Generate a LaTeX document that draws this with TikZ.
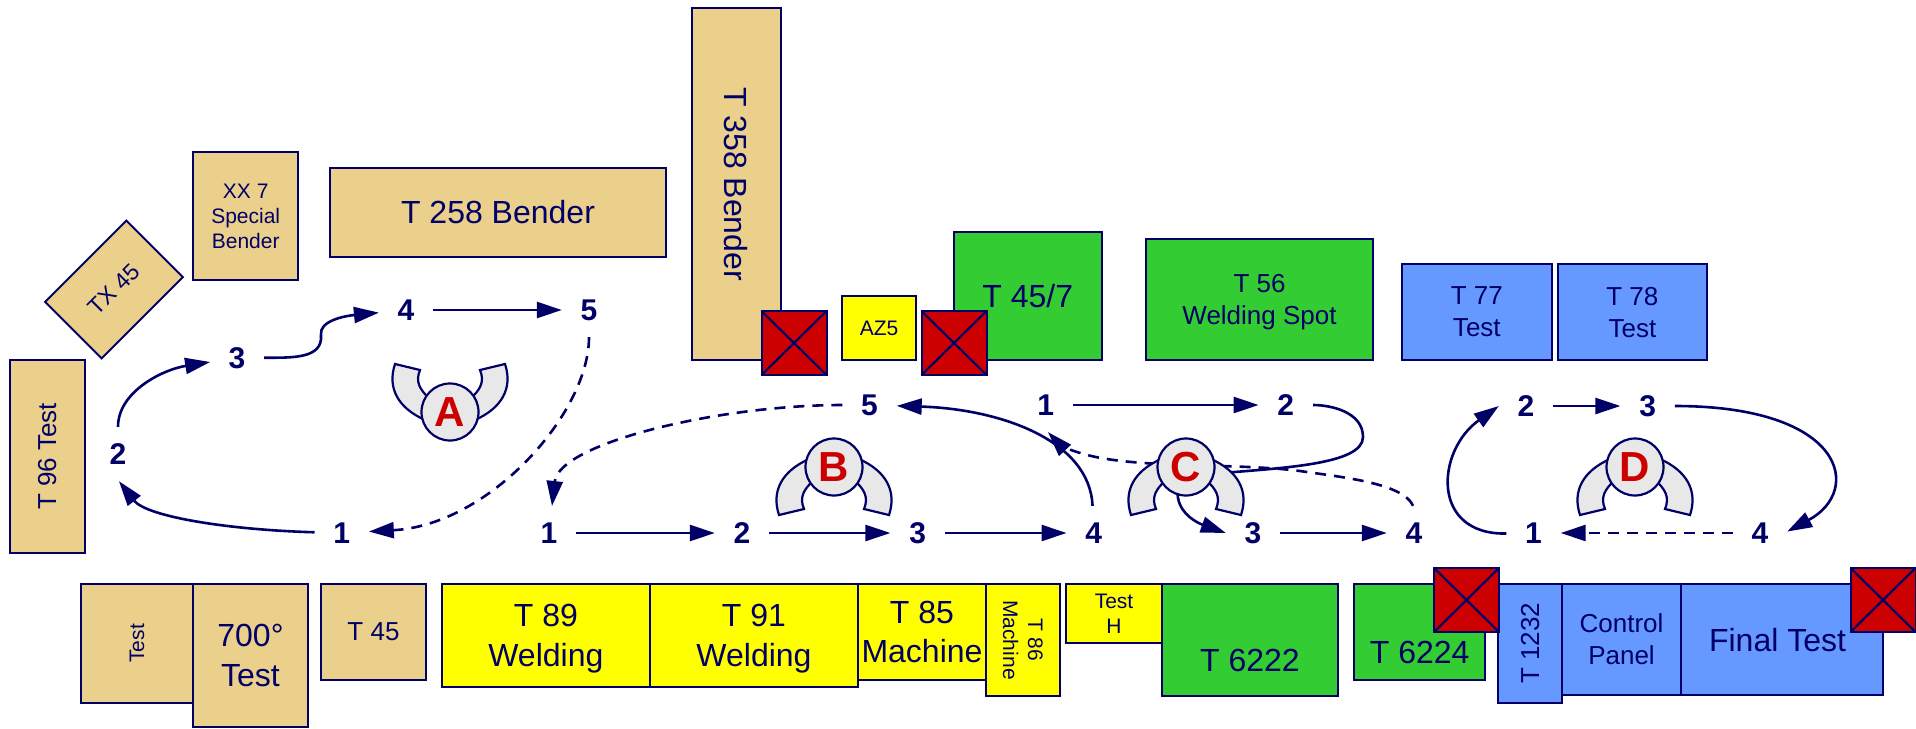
\documentclass[tikz,border=0pt]{standalone}
\usepackage{fontspec}
\setmainfont{Liberation Sans}
\usetikzlibrary{arrows.meta, positioning}

\definecolor{unitline}{HTML}{000066}
\definecolor{unittan}{HTML}{EBD08B}
\definecolor{unityellow}{HTML}{FFFF00}
\definecolor{unitgreen}{HTML}{33CC33}
\definecolor{unitblue}{HTML}{6699FF}
\definecolor{unitred}{HTML}{CC0000}
\definecolor{badgegray}{HTML}{E8E8E8}

\begin{document}
\begin{tikzpicture}[
  x=1pt, y=-1pt,
  unit/.style={rectangle, draw=unitline, line width=2pt, text=unitline,
               inner sep=0pt, outer sep=0pt, align=center, text depth=0pt},
  bigtext/.style={font=\fontsize{32}{39.5}\selectfont},
  midtext/.style={font=\fontsize{26}{32}\selectfont},
  smalltext/.style={font=\fontsize{21}{25}\selectfont},
  lowtext/.style={text height=63pt},
  tanbox/.style={unit, fill=unittan},
  yellowbox/.style={unit, fill=unityellow},
  greenbox/.style={unit, fill=unitgreen},
  bluebox/.style={unit, fill=unitblue},
  stopbox/.style={unit, fill=unitred, minimum width=65pt, minimum height=64pt},
  num/.style={circle, inner sep=0pt, minimum size=54pt, text=unitline,
              font=\fontsize{30}{30}\selectfont\bfseries},
  badge/.style={circle, draw=unitline, line width=2.2pt, fill=badgegray,
                inner sep=0pt, minimum size=57pt, text=unitred,
                font=\fontsize{42}{42}\selectfont\bfseries},
  wing/.style={draw=unitline, line width=2.2pt, fill=badgegray},
  arr/.style={-{Triangle[length=25pt, width=16pt]}, line width=2.6pt, unitline},
  darr/.style={arr, dash pattern=on 11pt off 8pt}
]
  \useasboundingbox (0,0) rectangle (1916,728);

  % ── Upper left stations ───────────────────────────────────────
  \node[tanbox, midtext, rotate=90, minimum width=193pt, minimum height=75pt]
        (t96) at (47,456.5) {T 96 Test};
  \node[tanbox, font=\fontsize{23}{28}\selectfont, rotate=45, minimum width=115pt,
        minimum height=80pt] (tx45) at (114,289.5) {TX 45};
  \node[tanbox, smalltext, anchor=north west, minimum width=104.6pt, minimum height=128.3pt]
        (xx7) at (193.4,151.7) {XX 7\\Special\\Bender};
  \node[tanbox, bigtext, anchor=north west, minimum width=336pt, minimum height=89.3pt]
        (t258) at (330,167.7) {T 258 Bender};
  \node[tanbox, bigtext, rotate=-90, minimum width=352pt, minimum height=89.5pt]
        (t358) at (736.5,184) {T 358 Bender};

  % ── Upper right stations ──────────────────────────────────────
  \node[yellowbox, smalltext, anchor=north west, minimum width=74pt, minimum height=64pt]
        (az5) at (842,296) {AZ5};
  \node[greenbox, bigtext, anchor=north west, minimum width=147.5pt, minimum height=128pt]
        (t457) at (954,232) {T 45/7};
  \node[greenbox, midtext, anchor=north west, minimum width=227pt, minimum height=121pt]
        (t56) at (1146,239) {T 56\\Welding Spot};
  \node[bluebox, midtext, anchor=north west, minimum width=149.6pt, minimum height=96pt]
        (t77) at (1402,264) {T 77\\Test};
  \node[bluebox, midtext, right=6pt of t77.north east, anchor=north west,
        minimum width=149.6pt, minimum height=96pt] (t78) {T 78\\Test};

  % ── Lower row, left part ──────────────────────────────────────
  \node[tanbox, smalltext, rotate=90, minimum width=119pt, minimum height=112pt]
        (test) at (137,643.4) {Test};
  \node[tanbox, bigtext, anchor=north west, minimum width=115pt, minimum height=143pt]
        (t700) at (193,584) {700°\\Test};
  \node[tanbox, midtext, anchor=north west, minimum width=105pt, minimum height=96pt]
        (t45) at (321,584) {T 45};
  \node[yellowbox, bigtext, anchor=north west, minimum width=208.3pt, minimum height=103pt]
        (t89) at (441.7,584) {T 89\\Welding};
  \node[yellowbox, bigtext, right=0pt of t89.north east, anchor=north west,
        minimum width=208pt, minimum height=103pt] (t91) {T 91\\Welding};
  \node[yellowbox, bigtext, right=0pt of t91.north east, anchor=north west,
        minimum width=128pt, minimum height=96pt] (t85) {T 85\\Machine};
  \node[yellowbox, smalltext, rotate=-90, minimum width=112pt, minimum height=74pt]
        (t86) at (1023,640) {T 86\\Machine};

  % ── Lower row, right part ─────────────────────────────────────
  \node[yellowbox, smalltext, anchor=north west, minimum width=96pt, minimum height=59pt]
        (testh) at (1066,584) {Test\\H};
  \node[greenbox, bigtext, lowtext, right=0pt of testh.north east, anchor=north west,
        minimum width=176pt, minimum height=112pt] (t6222) {T 6222};
  \node[greenbox, bigtext, lowtext, anchor=north west, minimum width=131.4pt, minimum height=96pt]
        (t6224) at (1354,584) {T 6224};
  \node[bluebox, midtext, rotate=90, minimum width=119pt, minimum height=64pt]
        (t1232) at (1530,643.5) {T 1232};
  \node[bluebox, midtext, anchor=north west, minimum width=119pt, minimum height=111pt]
        (panel) at (1562,584) {Control\\Panel};
  \node[bluebox, bigtext, right=0pt of panel.north east, anchor=north west,
        minimum width=202pt, minimum height=111pt] (final) {Final Test\hspace*{9pt}};

  % ── Crossed out stations ──────────────────────────────────────
  \foreach \n/\x/\y in {stopa/794/343, stopb/954/343, stopc/1466.5/600, stopd/1883/600} {
    \node[stopbox] (\n) at (\x,\y) {};
    \draw[draw=unitline, line width=2.2pt] (\n.north west) -- (\n.south east)
                                           (\n.north east) -- (\n.south west);
  }

  % ── Route numbers ─────────────────────────────────────────────
  \node[num] (a1) at (341.7,533) {1};
  \node[num] (a2) at (118,454)   {2};
  \node[num] (a3) at (237,357.7) {3};
  \node[num] (a4) at (406,310)   {4};
  \node[num] (a5) at (589,310)   {5};

  \node[num] (b1) at (549,533)    {1};
  \node[num] (b2) at (742,533)    {2};
  \node[num] (b3) at (917.6,533)  {3};
  \node[num] (b4) at (1093.7,533) {4};
  \node[num] (b5) at (869.5,405)  {5};

  \node[num] (c1) at (1045.6,405) {1};
  \node[num] (c2) at (1285.8,405) {2};
  \node[num] (c3) at (1253,533)   {3};
  \node[num] (c4) at (1414,533)   {4};

  \node[num] (d1) at (1533.5,533) {1};
  \node[num] (d2) at (1526,406)   {2};
  \node[num] (d3) at (1647.6,406) {3};
  \node[num] (d4) at (1760,533)   {4};

  % ── Route A ───────────────────────────────────────────────────
  \coordinate (a34) at (321,335);
  \draw[arr] (a1) .. controls +(-110,-3) and +(28,36) .. (a2.-88);
  \draw[arr] (a2) .. controls +(0,-62) and +(-75,12) .. (a3);
  \draw[arr] (a3) .. controls +(55,0) and +(2,24) .. (a34)
                  .. controls +(-2,-14) and +(-62,6) .. (a4);
  \draw[arr] (a4) -- (a5);
  \draw[darr] (a5) .. controls +(0,103) and +(148,-8) .. (a1);

  % ── Route B ───────────────────────────────────────────────────
  \foreach \a/\b in {b1/b2, b2/b3, b3/b4}
    \draw[arr] (\a) -- (\b);
  \draw[arr] (b4) .. controls +(-4,-93) and +(130,4) .. (b5);
  \draw[darr] (b5) .. controls +(-150,0) and +(10,-90) .. (b1);

  % ── Route C ───────────────────────────────────────────────────
  \coordinate (c2r) at (1363,437);
  \coordinate (c2m) at (1210,474);
  \coordinate (c3t) at (1178,498);
  \coordinate (c4m) at (1300,471);
  \coordinate (c1m) at (1077,452);
  \draw[arr] (c1) -- (c2);
  \draw[arr] (c3) -- (c4);
  \draw[arr] (c2) .. controls +(45,0) and +(0,-25) .. (c2r)
                  .. controls +(0,28) and +(70,-6) .. (c2m)
                  .. controls +(-30,2) and +(-2,-10) .. (c3t)
                  .. controls +(3,17) and +(-28,-10) .. (c3.180);
  \draw[darr] (c4.92) .. controls +(-10,-23) and +(40,6) .. (c4m)
                      .. controls +(-70,-9) and +(53,18) .. (c1m)
                      .. controls +(-12,-4) and +(14,15) .. (c1.-85);

  % ── Route D ───────────────────────────────────────────────────
  \draw[arr] (d1) .. controls +(-103,2) and +(-63,45) .. (d2.180);
  \draw[arr] (d2) -- (d3);
  \draw[arr] (d3) .. controls +(198,0) and +(76,-41) .. (d4.3);
  \draw[darr] (d4) -- (d1);

  % ── Operator badges ───────────────────────────────────────────
  \foreach \n/\bx/\by/\flip in {A/450/412/1, B/834/467/-1, C/1186/467/-1, D/1635/467/-1} {
    \draw[wing, shift={(\bx,\by)}, yscale=\flip]
          (-55,-48) -- (-30,-42) .. controls (-35,-30) and (-30,-22) .. (-20,-13)
          -- (-25,8) .. controls (-52,-4) and (-63,-24) .. cycle
          (55,-48) -- (30,-42) .. controls (35,-30) and (30,-22) .. (20,-13)
          -- (25,8) .. controls (52,-4) and (63,-24) .. cycle;
    \node[badge] (badge\n) at (\bx,\by) {\n};
  }

\end{tikzpicture}
\end{document}
